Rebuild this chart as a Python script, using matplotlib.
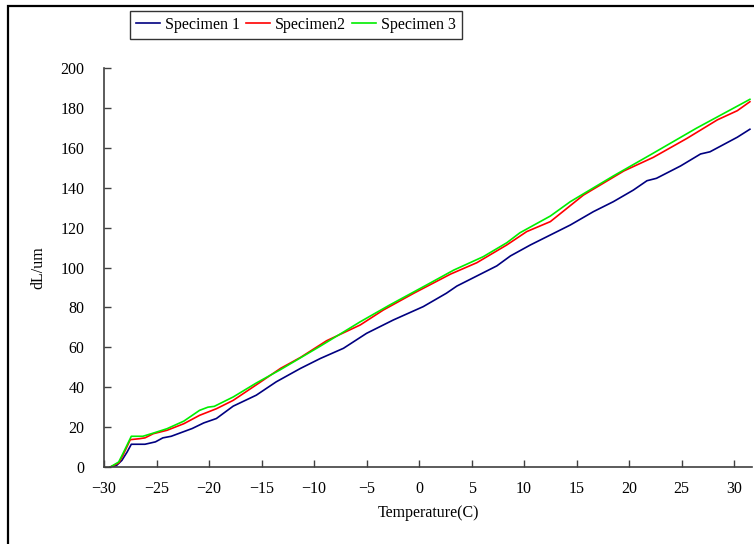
import numpy as np
import matplotlib
matplotlib.use("Agg")
import matplotlib.pyplot as plt
from matplotlib.patches import Rectangle

# Dati (temperatura in C, dL in um)
t_blue = [-29.4, -28.8, -28.3, -27.8, -27.4, -26.1, -25.1, -24.4, -23.6, -21.6, -20.5,
          -19.3, -17.7, -15.5, -13.6, -11.3, -9.4, -7.2, -5.0, -2.45, 0.4, 2.6, 3.6,
          7.4, 8.7, 10.6, 14.4, 16.6, 18.5, 20.4, 21.7, 22.6, 24.9, 26.8, 27.7, 30.3, 31.5]
dl_blue = [0, 0.8, 3.3, 7.5, 11.4, 11.4, 12.6, 14.6, 15.4, 19.3, 22.1,
           24.3, 30.5, 36.0, 42.7, 49.4, 54.4, 59.5, 67.0, 73.7, 80.4, 87.1, 90.7,
           100.8, 105.8, 111.3, 121.3, 128.0, 133.0, 138.8, 143.5, 144.7, 150.9, 156.9, 158.0, 165.3, 169.3]

t_red = [-29.4, -28.6, -28.2, -27.5, -26.6, -26.1, -25.3, -24.0, -22.4, -20.9, -19.3,
         -17.7, -15.1, -13.2, -11.3, -8.8, -5.6, -3.4, -0.5, 3.0, 5.5, 8.35, 10.25,
         12.5, 15.65, 19.5, 22.3, 25.5, 28.4, 30.3, 31.5]
dl_red = [0, 2.0, 5.8, 13.7, 14.2, 14.6, 16.7, 18.4, 21.7, 25.9, 29.2,
          33.4, 42.6, 49.4, 54.9, 63.3, 71.2, 78.7, 87.1, 96.7, 102.4, 111.3, 118.0,
          123.0, 136.3, 148.4, 155.2, 164.7, 174.0, 178.6, 183.1]

t_green = [-29.4, -28.6, -28.2, -27.4, -26.3, -25.3, -24.0, -22.4, -20.9, -20.1, -19.5,
           -17.7, -15.5, -13.2, -9.4, -5.6, -2.8, 0.7, 3.3, 6.1, 8.35, 9.6,
           12.5, 14.4, 18.5, 22.0, 26.4, 29.6, 31.5]
dl_green = [0, 2.5, 6.7, 15.4, 15.4, 17.0, 19.2, 23.0, 28.4, 30.0, 30.4,
            35.1, 42.1, 48.8, 60.6, 72.8, 81.2, 91.2, 98.7, 105.4, 112.4, 117.4,
            125.8, 133.0, 145.9, 156.4, 169.8, 178.9, 184.3]

x_ticks = np.arange(-30, 31, 5)
y_ticks = np.arange(0, 201, 20)

plt.rcParams['font.family'] = ['Liberation Serif', 'DejaVu Serif']

fig = plt.figure(figsize=(7.54, 5.44), dpi=100)
ax = fig.add_axes([104 / 754, 77 / 544, 648 / 754, 399 / 544])

ax.plot(t_blue, dl_blue, color='#000080', lw=1.2, label='Specimen 1')
ax.plot(t_red, dl_red, color='#ff0000', lw=1.2, label='Specimen2')
ax.plot(t_green, dl_green, color='#00ee00', lw=1.2, label='Specimen 3')

ax.set_xlim(-30, 31.7)
ax.set_ylim(0, 200)
ax.set_xticks(x_ticks)
ax.set_yticks(y_ticks)
ax.set_xticklabels([f"\u2212{-v}" if v < 0 else str(v) for v in x_ticks])

ax.spines['top'].set_visible(False)
ax.spines['right'].set_visible(False)
for s in ('left', 'bottom'):
    ax.spines[s].set_color('#404040')
    ax.spines[s].set_linewidth(1.2)
ax.tick_params(direction='in', length=5, width=1, colors='#404040', labelsize=11.5,
               labelcolor='black', pad=10)
ax.tick_params(axis='y', pad=14)

ax.set_xlabel("Temperature(C)", fontsize=11.5, labelpad=6)
ax.set_ylabel("dL/um", fontsize=11.5, labelpad=10)

leg = fig.legend(loc='center', bbox_to_anchor=(296 / 754, 1 - 25 / 544), ncol=3,
                 frameon=True, fancybox=False, shadow=False, fontsize=11.5,
                 handlelength=1.5, columnspacing=0.4, handletextpad=0.3,
                 borderpad=0.35, borderaxespad=0)
leg.get_frame().set_edgecolor('black')
leg.get_frame().set_linewidth(1.0)

# Cornice esterna
fig.patches.append(Rectangle((8 / 754, -0.05), 1.0, 1 - 6 / 544 + 0.05,
                             transform=fig.transFigure, fill=False,
                             edgecolor='black', lw=1.6))

plt.savefig("out.png", dpi=100)
